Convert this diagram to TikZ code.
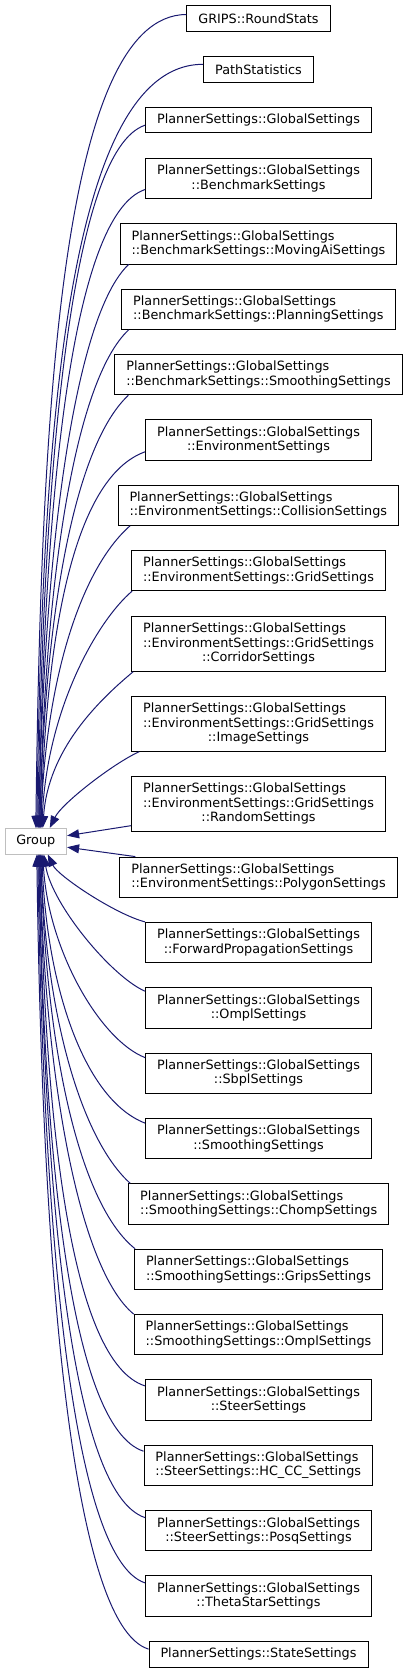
\documentclass[tikz,border=0pt]{standalone}
\usepackage{fontspec}
\setmainfont{DejaVu Sans}
\usetikzlibrary{arrows.meta}

\definecolor{edgeblue}{RGB}{25,25,112}
% first two lines of the grid settings labels
\newcommand{\envgrid}{\rlap{PlannerSettings::GlobalSettings}\phantom{::EnvironmentSettings::GridSettings}\\::EnvironmentSettings::GridSettings}

\begin{document}
\begin{tikzpicture}[x=1pt,y=-1pt,
    cls/.style={draw=black, line width=0.9pt, fill=white, font=\fontsize{12.8}{14.5}\selectfont,
      inner xsep=11.5pt, inner ysep=2pt, minimum height=25.5pt},
    two/.style={cls, minimum height=40.3pt},
    three/.style={cls, minimum height=55pt, align=center},
    inh/.style={<-, >={Triangle[length=12pt,width=9pt]}, draw=edgeblue, line width=1pt}]
    \useasboundingbox (0,0) rectangle (408,1673);

    % base class
    \node[cls, draw=black!25, minimum width=61.7pt, minimum height=25.7pt, inner xsep=0pt] (grp) at (35.8,841.2) {Group};

    % derived classes
    \node[cls] (rs) at (258.5,18.5) {GRIPS::RoundStats};
    \node[cls] (pathstat) at (258.5,69.3) {PathStatistics};
    \node[cls] (gs) at (258.5,119.7) {PlannerSettings::GlobalSettings};
    \node[two, align=center] (bench) at (258.5,178.5) {PlannerSettings::GlobalSettings\\::BenchmarkSettings};
    \node[two, align=left] (movingai) at (258.5,243.8) {PlannerSettings::GlobalSettings\\::BenchmarkSettings::MovingAiSettings};
    \node[two, align=left] (planning) at (258.3,309.2) {PlannerSettings::GlobalSettings\\::BenchmarkSettings::PlanningSettings};
    \node[two, align=left] (bsmooth) at (258.5,374.7) {PlannerSettings::GlobalSettings\\::BenchmarkSettings::SmoothingSettings};
    \node[two, align=center] (env) at (258.5,439.8) {PlannerSettings::GlobalSettings\\::EnvironmentSettings};
    \node[two, align=left] (collision) at (258.3,505.2) {PlannerSettings::GlobalSettings\\::EnvironmentSettings::CollisionSettings};
    \node[two, align=left] (grid) at (258.5,570.5) {PlannerSettings::GlobalSettings\\::EnvironmentSettings::GridSettings};
    \node[three] (corridor) at (258.5,643.8) {\envgrid\\::CorridorSettings};
    \node[three] (image) at (258.5,723.8) {\envgrid\\::ImageSettings};
    \node[three] (random) at (258.5,803.7) {\envgrid\\::RandomSettings};
    \node[two, align=left] (polygon) at (258.5,877.2) {PlannerSettings::GlobalSettings\\::EnvironmentSettings::PolygonSettings};
    \node[two, align=center] (fwdprop) at (258.5,942.5) {PlannerSettings::GlobalSettings\\::ForwardPropagationSettings};
    \node[two, align=center] (ompl) at (258.5,1007.8) {PlannerSettings::GlobalSettings\\::OmplSettings};
    \node[two, align=center] (sbpl) at (258.5,1073.2) {PlannerSettings::GlobalSettings\\::SbplSettings};
    \node[two, align=center] (smooth) at (258.5,1138.7) {PlannerSettings::GlobalSettings\\::SmoothingSettings};
    \node[two, align=left] (chomp) at (258.7,1204) {PlannerSettings::GlobalSettings\\::SmoothingSettings::ChompSettings};
    \node[two, align=left] (grips) at (258.5,1269.3) {PlannerSettings::GlobalSettings\\::SmoothingSettings::GripsSettings};
    \node[two, align=left] (omplsm) at (258.5,1334.7) {PlannerSettings::GlobalSettings\\::SmoothingSettings::OmplSettings};
    \node[two, align=center] (steer) at (258.5,1400) {PlannerSettings::GlobalSettings\\::SteerSettings};
    \node[two, align=left] (hccc) at (258.3,1465.3) {PlannerSettings::GlobalSettings\\::SteerSettings::HC\_CC\_Settings};
    \node[two, align=center] (posq) at (258.5,1530.7) {PlannerSettings::GlobalSettings\\::SteerSettings::PosqSettings};
    \node[two, align=center] (theta) at (258.5,1596) {PlannerSettings::GlobalSettings\\::ThetaStarSettings};
    \node[cls] (state) at (258.5,1654.3) {PlannerSettings::StateSettings};

    % edges into the top of Group
    \draw[inh] ([xshift=0pt]grp.north) .. controls (41,422) and (60,15) .. ([yshift=4pt]rs.west);
    \draw[inh] ([xshift=1pt]grp.north) .. controls (42,446) and (65,64) .. ([yshift=5pt]pathstat.west);
    \draw[inh] ([xshift=2pt]grp.north) .. controls (43,476) and (70,150) .. ([yshift=-5.5pt]gs.west);
    \draw[inh] ([xshift=3pt]grp.north) .. controls (44,508) and (70,215) .. ([yshift=-11pt]bench.west);
    \draw[inh] ([xshift=3pt]grp.north) .. controls (44,546) and (75,315) .. ([xshift=9pt]movingai.south west);
    \draw[inh] ([xshift=4pt]grp.north) .. controls (45,578) and (75,380) .. ([xshift=7.5pt]planning.south west);
    \draw[inh] ([xshift=4pt]grp.north) .. controls (45,611) and (75,445) .. ([xshift=14pt]bsmooth.south west);
    \draw[inh] ([xshift=5pt]grp.north) .. controls (46,640) and (72,478) .. ([yshift=-12pt]env.west);
    \draw[inh] ([xshift=5pt]grp.north) .. controls (46,676) and (82,568) .. ([xshift=12.5pt]collision.south west);
    \draw[inh] ([xshift=6pt]grp.north) .. controls (47,709) and (97,621) .. ([xshift=1pt]grid.south west);
    \draw[inh] ([xshift=7pt]grp.north) .. controls (48,750) and (98,701) .. ([xshift=2pt]corridor.south west);
    \draw[inh] ([xshift=14pt]grp.north) .. controls (62,803) and (114,763) .. ([xshift=8pt]image.south west);

    % edges into the right side of Group
    \draw[inh] ([yshift=5.5pt]grp.east) -- ([yshift=6pt]random.south west);
    \draw[inh] ([yshift=-6pt]grp.east) -- ([xshift=16pt]polygon.north west);

    % edges into the bottom of Group
    \draw[inh] ([xshift=12pt]grp.south) .. controls (58,876) and (115,914) .. (fwdprop.north west);
    \draw[inh] ([xshift=8pt]grp.south) .. controls (52,905) and (112,977) .. ([yshift=-4pt]ompl.north west);
    \draw[inh] ([xshift=7pt]grp.south) .. controls (48,950) and (100,1040) .. ([yshift=-5pt]sbpl.north west);
    \draw[inh] ([xshift=6pt]grp.south) .. controls (47,989) and (85,1100) .. ([yshift=-5pt]smooth.north west);
    \draw[inh] ([xshift=5pt]grp.south) .. controls (46,1018) and (82,1140) .. ([xshift=2pt]chomp.north west);
    \draw[inh] ([xshift=5pt]grp.south) .. controls (46,1052) and (80,1205) .. ([xshift=1pt]grips.north west);
    \draw[inh] ([xshift=4pt]grp.south) .. controls (45,1084) and (80,1270) .. (omplsm.north west);
    \draw[inh] ([xshift=4pt]grp.south) .. controls (45,1120) and (70,1362) .. ([yshift=-6.5pt]steer.north west);
    \draw[inh] ([xshift=3pt]grp.south) .. controls (44,1153) and (70,1427) .. ([yshift=-6.5pt]hccc.north west);
    \draw[inh] ([xshift=3pt]grp.south) .. controls (44,1186) and (70,1493) .. ([yshift=-7.5pt]posq.north west);
    \draw[inh] ([xshift=2pt]grp.south) .. controls (43,1218) and (70,1558) .. ([yshift=-7.5pt]theta.north west);
    \draw[inh] ([xshift=1pt]grp.south) .. controls (42,1252) and (70,1625) .. ([yshift=-8pt]state.north west);
\end{tikzpicture}
\end{document}
